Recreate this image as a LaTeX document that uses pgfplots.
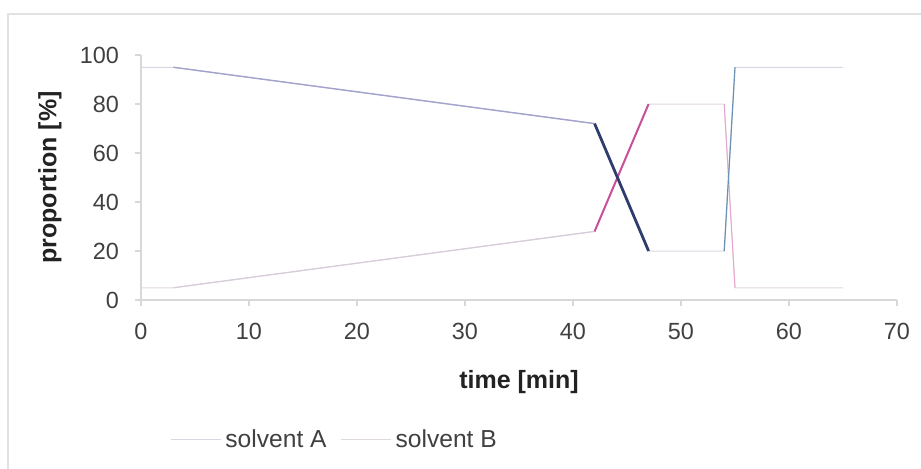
\documentclass[border=0pt]{standalone}
\usepackage{fontspec}
\setmainfont{Liberation Sans}
\usepackage{pgfplots}
\pgfplotsset{compat=1.18}

\definecolor{framegray}{HTML}{E2E2E2}
\definecolor{axisgray}{HTML}{D8D8D8}
\definecolor{ticktext}{HTML}{404040}
\definecolor{labeltext}{HTML}{222222}
\definecolor{baseA}{HTML}{D8D8E2}
\definecolor{baseB}{HTML}{E2D8E0}
\definecolor{rampA}{HTML}{A2A2CC}
\definecolor{rampB}{HTML}{D6CCDA}
\definecolor{gradA}{HTML}{2E3C6E}
\definecolor{gradB}{HTML}{C8509A}
\definecolor{washA}{HTML}{6C90B4}
\definecolor{washB}{HTML}{E8A4CC}

\begin{document}
\fontsize{11.5pt}{13pt}\selectfont
\begin{tikzpicture}
\useasboundingbox (0,0) rectangle (460.5pt,234pt);
% light chart-area frame
\draw[framegray, line width=0.6pt] (4pt,-10pt) rectangle (470pt,227pt);
\begin{axis}[
  at={(70.5pt,84pt)}, anchor=south west,
  scale only axis, width=378pt, height=122.5pt,
  xmin=0, xmax=70, ymin=0, ymax=100,
  axis x line=bottom, axis y line=left,
  axis line style={draw=axisgray, line width=0.6pt, -},
  xtick={0,10,...,70}, ytick={0,20,...,100},
  tick align=outside, major tick length=3pt,
  tick style={axisgray, line width=0.6pt},
  /pgf/number format/assume math mode=true,
  ticklabel style={text=ticktext, font=\fontsize{11.7pt}{13pt}\selectfont},
  xticklabel style={yshift=-4.5pt},
  yticklabel style={xshift=-4pt},
  xlabel={\textbf{time [min]}},
  ylabel={\textbf{proportion [\%]}},
  label style={text=labeltext, font=\fontsize{12.5pt}{14pt}\selectfont},
  xlabel style={at={(axis description cs:0.5,-0.3347)}, anchor=center},
  ylabel style={at={(axis description cs:-0.1204,0.5)}, anchor=center},
  legend columns=2,
  legend style={at={(axis description cs:0.0384,-0.571)}, anchor=west,
    draw=none, fill=none, inner sep=0pt, text=ticktext,
    font=\fontsize{12.3pt}{14pt}\selectfont,
    /tikz/every even column/.append style={column sep=5pt}},
  legend cell align=left,
  legend image code/.code={\draw[#1] (0pt,0pt) -- (25pt,0pt);},
]
% full gradient programme for each solvent
\addplot[baseA, line width=0.5pt] coordinates {(0,95) (3,95) (42,72) (47,20) (54,20) (55,95) (65,95)};
\addlegendentry{solvent A}
\addplot[baseB, line width=0.5pt] coordinates {(0,5) (3,5) (42,28) (47,80) (54,80) (55,5) (65,5)};
\addlegendentry{solvent B}
% shallow ramp
\addplot[forget plot, rampA, line width=0.7pt] coordinates {(3,95) (42,72)};
\addplot[forget plot, rampB, line width=0.6pt] coordinates {(3,5) (42,28)};
% steep gradient
\addplot[forget plot, gradB, line width=1pt] coordinates {(42,28) (47,80)};
\addplot[forget plot, gradA, line width=1.4pt] coordinates {(42,72) (47,20)};
% re-equilibration step
\addplot[forget plot, washB, line width=0.5pt] coordinates {(54,80) (55,5)};
\addplot[forget plot, washA, line width=0.6pt] coordinates {(54,20) (55,95)};
\end{axis}
\end{tikzpicture}
\end{document}
